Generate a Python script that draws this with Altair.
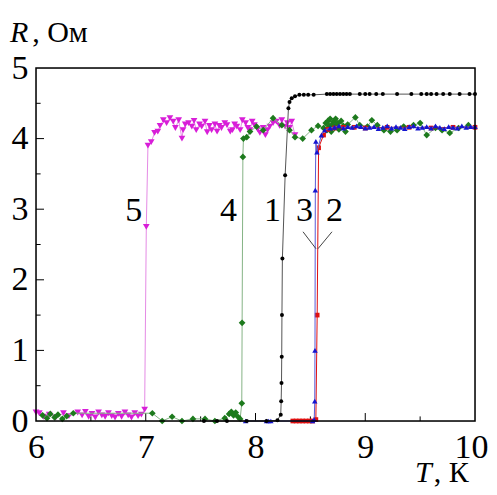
import altair as alt
import pandas as pd

# ---- data (T in K, R in Ohm) ----
s1_black = [(7.53,0.0),(7.65,0.0),(7.74,0.0),(7.92,0.0),(8.10,0.0),(8.20,0.01),(8.230,0.09),(8.234,0.28),
            (8.237,0.54),(8.239,0.91),(8.241,1.50),(8.245,2.30),(8.27,3.48),(8.30,4.43),(8.31,4.52),(8.33,4.57),
            (8.36,4.60),(8.40,4.62),(8.44,4.62),(8.48,4.62),(8.53,4.62),(8.65,4.63),(8.68,4.63),(8.71,4.63),
            (8.74,4.63),(8.77,4.63),(8.80,4.63),(8.83,4.63),(8.86,4.63),(8.95,4.63),(9.00,4.63),(9.04,4.63),
            (9.10,4.63),(9.16,4.63),(9.29,4.63),(9.42,4.63),(9.51,4.63),(9.56,4.63),(9.60,4.63),(9.65,4.63),
            (9.71,4.63),(9.77,4.63),(9.86,4.63),(9.95,4.63),(10.0,4.63)]
s2_red = [(8.34,0.0),(8.37,0.0),(8.40,0.0),(8.43,0.0),(8.46,0.0),(8.49,0.0),(8.52,0.0),(8.55,0.02),
          (8.562,1.50),(8.575,3.87),(8.62,4.05),(8.66,4.13),(8.72,4.15),(8.80,4.16),(8.90,4.16),(9.00,4.15),
          (9.20,4.16),(9.40,4.16),(9.60,4.15),(9.80,4.16),(10.0,4.16)]
s3_blue = [(7.91,0.0),(8.10,0.0),(8.12,0.0),(8.14,0.0),(8.52,0.0),(8.535,0.02),(8.540,0.28),(8.542,1.00),
           (8.545,3.27),(8.55,3.96),(8.56,3.81),(8.60,4.05),(8.63,4.12),(8.68,4.15),(8.72,4.16),(8.76,4.18),
           (8.80,4.15),(8.84,4.17),(8.88,4.16),(8.92,4.18),(8.96,4.17),(9.00,4.15),(9.04,4.16),(9.08,4.17),
           (9.12,4.14),(9.16,4.16),(9.20,4.18),(9.24,4.15),(9.28,4.17),(9.32,4.16),(9.36,4.14),(9.40,4.17),
           (9.44,4.18),(9.48,4.15),(9.52,4.16),(9.56,4.17),(9.60,4.15),(9.64,4.18),(9.68,4.16),(9.72,4.14),
           (9.76,4.17),(9.80,4.16),(9.84,4.15),(9.88,4.18),(9.92,4.16),(9.96,4.17),(10.0,4.17)]
s4_green = [(6.06,0.08),(6.10,0.04),(6.13,0.10),(6.17,0.05),(6.20,0.09),(6.24,0.03),(6.28,0.07),(6.34,0.11),
            (7.06,0.11),(7.15,0.00),(7.24,0.06),(7.33,0.00),(7.43,0.03),(7.54,0.03),(7.63,0.00),(7.72,0.04),
            (7.76,0.10),(7.78,0.13),(7.80,0.08),(7.82,0.12),(7.84,0.06),(7.86,0.03),
            (7.875,0.25),(7.878,1.39),(7.885,3.74),(7.89,4.00),(7.92,4.02),(7.95,4.10),(8.01,4.17),(8.07,4.12),
            (8.16,4.29),(8.24,4.19),(8.31,4.12),(8.36,4.02),(8.43,4.00),(8.51,4.12),(8.57,4.18),
            (8.62,4.15),(8.64,4.22),(8.65,4.12),(8.66,4.25),(8.67,4.18),(8.68,4.28),(8.69,4.10),(8.70,4.20),
            (8.71,4.24),(8.72,4.15),(8.73,4.28),(8.74,4.19),(8.75,4.22),(8.76,4.13),(8.78,4.25),(8.80,4.18),
            (8.82,4.10),(8.84,4.20),(8.91,4.30),(8.95,4.19),(9.02,4.17),(9.06,4.26),(9.11,4.19),(9.17,4.12),
            (9.23,4.10),(9.29,4.12),(9.35,4.17),(9.44,4.19),(9.50,4.22),(9.56,4.05),(9.64,4.15),(9.70,4.12),
            (9.77,4.08),(9.85,4.15),(9.94,4.19)]
s5_magenta = [(6.00,0.12),(6.03,0.11),(6.07,0.06),(6.12,0.09),(6.18,0.05),(6.25,0.11),(6.30,0.07),(6.38,0.12),
              (6.42,0.08),(6.45,0.13),(6.48,0.06),(6.51,0.10),(6.54,0.05),(6.57,0.12),(6.60,0.08),(6.63,0.06),
              (6.66,0.11),(6.69,0.07),(6.72,0.05),(6.75,0.10),(6.78,0.06),(6.81,0.12),(6.84,0.08),(6.87,0.05),
              (6.90,0.11),(6.93,0.07),(6.96,0.09),(6.99,0.16),
              (7.005,2.75),(7.02,3.90),(7.05,3.95),(7.08,4.08),(7.11,4.10),(7.13,4.18),(7.16,4.26),(7.19,4.22),
              (7.22,4.29),(7.25,4.24),(7.27,4.15),(7.30,4.26),(7.33,4.00),(7.34,4.12),(7.36,4.20),(7.39,4.22),
              (7.42,4.17),(7.44,4.25),(7.46,4.12),(7.49,4.20),(7.51,4.17),(7.54,4.24),(7.56,4.09),(7.58,4.18),
              (7.60,4.12),(7.63,4.20),(7.65,4.10),(7.67,4.18),(7.69,4.15),(7.72,4.22),(7.74,4.19),(7.77,4.10),
              (7.79,4.12),(7.81,4.20),(7.83,4.17),(7.86,4.12),(7.88,4.26),(7.91,4.22),(7.93,4.15),(7.95,4.12),
              (7.97,4.24),(7.99,4.19),(8.02,4.13),(8.04,4.08),(8.07,4.15),(8.09,4.05),(8.11,4.12),(8.13,4.17),
              (8.16,4.22),(8.19,4.24),(8.22,4.18),(8.24,4.26),(8.27,4.17),(8.29,4.22),(8.31,4.15),(8.33,4.24),
              (8.36,4.05)]

curve_labels = ["5", "4", "1", "3", "2"]
label_T = [6.89, 7.754, 8.155, 8.446, 8.72]
label_R = [2.83, 2.83, 2.83, 2.83, 2.83]

leader_T = [8.433, 8.697]
leader_R = [2.68, 2.68]
leader_T2 = [8.551, 8.569]
leader_R2 = [2.44, 2.44]

x_ticks = [6, 7, 8, 9, 10]
y_ticks = [0, 1, 2, 3, 4, 5]
x_minor = [6.5, 7.5, 8.5, 9.5]
y_minor = [0.5, 1.5, 2.5, 3.5, 4.5]

FONT = "Liberation Serif"
xs = alt.Scale(domain=[6, 10], nice=False, zero=False)
ys = alt.Scale(domain=[0, 5], nice=False, zero=False)


def series_layers(pts, color, line_color, shape, size):
    df = pd.DataFrame(pts, columns=["T", "R"])
    df["i"] = range(len(df))
    base = alt.Chart(df)
    line = base.mark_line(color=line_color, strokeWidth=1).encode(
        x=alt.X("T:Q", scale=xs), y=alt.Y("R:Q", scale=ys), order="i:Q")
    pt = base.mark_point(shape=shape, filled=True, size=size, color=color, opacity=1).encode(
        x=alt.X("T:Q", scale=xs), y=alt.Y("R:Q", scale=ys))
    return [line, pt]


# frame drawn over the data range
frame_df = pd.DataFrame({"T": [6], "T2": [10], "R": [0], "R2": [5]})
frame = alt.Chart(frame_df).mark_rect(fillOpacity=0, stroke="black", strokeWidth=1.5).encode(
    x=alt.X("T:Q", scale=xs, axis=alt.Axis(
        values=x_ticks, title=None, labelPadding=9, labelFlush=False, format="d",
        grid=False, ticks=False, domain=False, labelFont=FONT, labelFontSize=34,
        labelOffset={"condition": {"test": "datum.value == 10", "value": -4}, "value": 0})),
    x2="T2:Q",
    y=alt.Y("R:Q", scale=ys, axis=alt.Axis(
        values=y_ticks, title=None, labelPadding=8, format="d",
        grid=False, ticks=False, domain=False, labelFont=FONT, labelFontSize=34)),
    y2="R2:Q",
)

# inward ticks
bt = pd.DataFrame({"T": x_ticks[1:-1] + x_minor,
                   "R": [0.0] * 7,
                   "R2": [0.113] * 3 + [0.065] * 4})
lt = pd.DataFrame({"R": y_ticks[1:-1] + y_minor,
                   "T": [6.0] * 9,
                   "T2": [6.073] * 4 + [6.042] * 5})
bticks = alt.Chart(bt).mark_rule(color="black", strokeWidth=1).encode(
    x=alt.X("T:Q", scale=xs), y=alt.Y("R:Q", scale=ys), y2="R2:Q")
lticks = alt.Chart(lt).mark_rule(color="black", strokeWidth=1).encode(
    y=alt.Y("R:Q", scale=ys), x=alt.X("T:Q", scale=xs), x2="T2:Q")

layers = [bticks, lticks]
layers += series_layers(s5_magenta, "#d81ed8", "#e58be5", "triangle-down", 45)
layers += series_layers(s4_green, "#1d7a1d", "#86b486", "diamond", 45)
layers += series_layers(s2_red, "#e01010", "#e01010", "square", 22)
layers += series_layers(s3_blue, "#1515d0", "#5a5ad8", "triangle-up", 30)
layers += series_layers(s1_black, "#000000", "#555555", "circle", 16)

lab_df = pd.DataFrame({"t": curve_labels, "T": label_T, "R": label_R})
labels = alt.Chart(lab_df).mark_text(font=FONT, fontSize=34, baseline="alphabetic",
                                     align="center").encode(
    x=alt.X("T:Q", scale=xs), y=alt.Y("R:Q", scale=ys), text="t:N")

lead_df = pd.DataFrame({"T": leader_T, "R": leader_R, "T2": leader_T2, "R2": leader_R2})
leaders = alt.Chart(lead_df).mark_rule(color="#444444", strokeWidth=1).encode(
    x=alt.X("T:Q", scale=xs), y=alt.Y("R:Q", scale=ys), x2="T2:Q", y2="R2:Q")

title_df = pd.DataFrame({
    "t": ["R", ", Ом", "T", ", К"],
    "T": [5.763, 5.965, 9.453, 9.625],
    "R": [5.368, 5.368, -0.86, -0.86],
    "st": ["italic", "normal", "italic", "normal"],
})
t_it = alt.Chart(title_df[title_df.st == "italic"]).mark_text(
    font=FONT, fontSize=30, fontStyle="italic", align="left", baseline="alphabetic").encode(
    x=alt.X("T:Q", scale=xs), y=alt.Y("R:Q", scale=ys), text="t:N")
t_no = alt.Chart(title_df[title_df.st == "normal"]).mark_text(
    font=FONT, fontSize=30, align="left", baseline="alphabetic").encode(
    x=alt.X("T:Q", scale=xs), y=alt.Y("R:Q", scale=ys), text="t:N")

layers += [labels, leaders, t_it, t_no, frame]

chart = alt.layer(*layers).properties(
    width=439, height=353,
    autosize=alt.AutoSizeParams(type="none"),
    padding={"left": 28, "top": 60, "right": 14, "bottom": 66},
)

chart.save("out.html", embed_options={"renderer": "svg", "actions": False})
